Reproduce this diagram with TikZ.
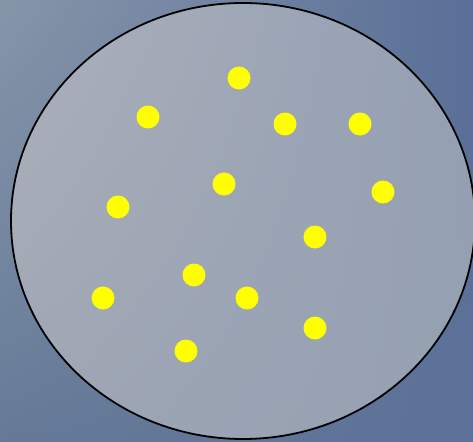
\documentclass[tikz,border=0pt]{standalone}
\usepackage{tikz}
\usetikzlibrary{positioning,shadings}
\definecolor{bgul}{HTML}{8696A9}
\definecolor{bgur}{HTML}{5A6F98}
\definecolor{bgll}{HTML}{667A98}
\definecolor{bglr}{HTML}{5C7198}
\definecolor{plul}{HTML}{ACB0BA}
\definecolor{plur}{HTML}{939FB3}
\definecolor{plll}{HTML}{9EA6B4}
\definecolor{pllr}{HTML}{95A0B1}
\definecolor{dotc}{HTML}{FFFF00}
\tikzset{
  rim/.style={draw=black, line width=1.8pt},
  spot/.style={circle, fill=dotc, draw=none, minimum size=23pt, inner sep=0pt},
}

\begin{document}
\begin{tikzpicture}[x=1pt, y=-1pt]
  % --- background ---
  \shade[upper left=bgul, upper right=bgur, lower left=bgll, lower right=bglr]
    (0,0) rectangle (473,441);
  \useasboundingbox (0,0) rectangle (473,441);

  % --- dish ---
  \shade[upper left=plul, upper right=plur, lower left=plll, lower right=pllr]
    (243,221) ellipse [x radius=232, y radius=218];
  \draw[rim] (243,221) ellipse [x radius=232, y radius=218];

  % --- dots ---
  \foreach \n/\x/\y in {1/239/78, 2/148/117, 3/285/124, 4/360/124, 5/224/184,
                        6/383/192, 7/118/207, 8/315/237, 9/194/275, 10/103/298,
                        11/247/298, 12/315/328, 13/186/351}
    \node[spot] (d\n) at (\x,\y) {};
\end{tikzpicture}
\end{document}
